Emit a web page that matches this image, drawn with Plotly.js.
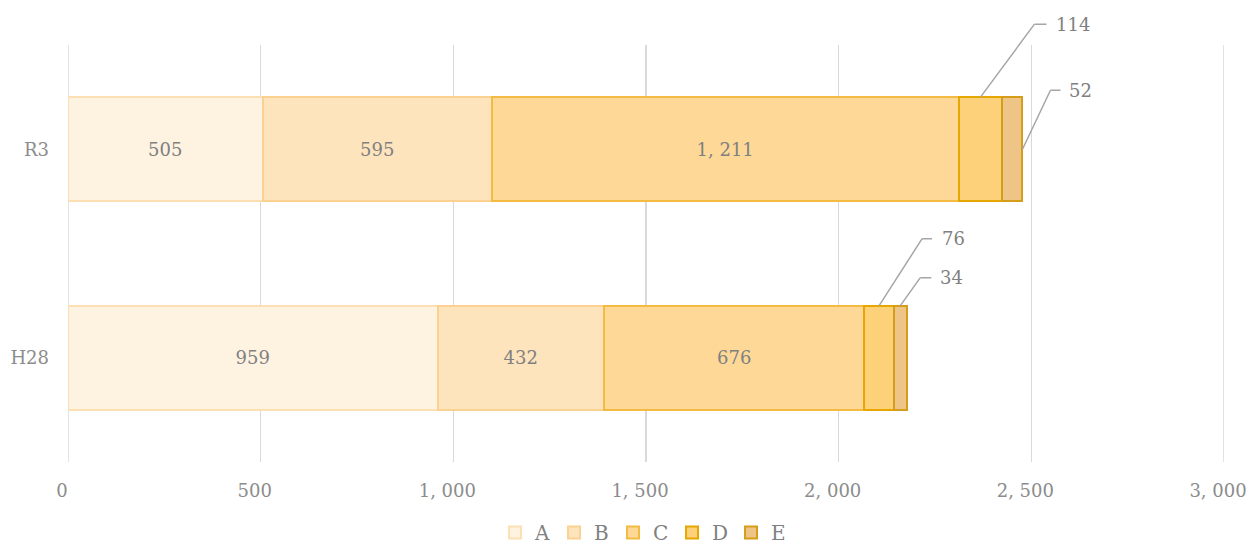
<!DOCTYPE html>
<html>
<head>
<meta charset="utf-8">
<script src="https://cdn.plot.ly/plotly-3.0.1.min.js"></script>
<style>html,body{margin:0;padding:0;background:#fff;}#chart{width:1252px;height:552px;}</style>
</head>
<body>
<div id="chart"></div>
<script>
// ---- data ----
const categories = ['R3', 'H28'];
const seriesNames = ['A', 'B', 'C', 'D', 'E'];
const valuesA = [505, 959];
const valuesB = [595, 432];
const valuesC = [1211, 676];
const valuesD = [114, 76];
const valuesE = [52, 34];
const xTickValues = [0, 500, 1000, 1500, 2000, 2500, 3000];

// ---- styles ----
const fillColors = ['#FEF2E1', '#FEE4BD', '#FDD897', '#FDD07A', '#EFC587'];
const lineColors = ['#FCE0B4', '#FAD190', '#F4BB42', '#E6A800', '#D49D1A'];
const FONT = 'DejaVu Serif, Liberation Serif, serif';
const textColor = '#808080';
const gridColor = '#D9D9D9';
const series = [valuesA, valuesB, valuesC, valuesD, valuesE];
const insideLabel = [true, true, true, false, false];

// number format with "comma + space" thousands separator
function fmt(v) {
  return String(v).replace(/\B(?=(\d{3})+(?!\d))/g, ', ');
}

const traces = series.map((vals, i) => ({
  type: 'bar',
  orientation: 'h',
  name: seriesNames[i],
  y: categories,
  x: vals,
  marker: { color: fillColors[i], line: { color: lineColors[i], width: 2 } },
  text: insideLabel[i] ? vals.map(fmt) : vals.map(() => ''),
  textposition: insideLabel[i] ? 'inside' : 'none',
  insidetextanchor: 'middle',
  insidetextfont: { family: FONT, size: 18, color: textColor },
  hoverinfo: 'x+name'
}));

// leader-line callouts for small segments (series index 3 and 4)
const calloutStyle = {
  'R3': [
    { s: 3, anchor: 'top', dx: 54, dy: 73, tail: 12, gap: 22 },
    { s: 4, anchor: 'right', dx: 28, dy: 59, tail: 10, gap: 19 }
  ],
  'H28': [
    { s: 3, anchor: 'top', dx: 43, dy: 67, tail: 10, gap: 20 },
    { s: 4, anchor: 'top', dx: 20, dy: 28, tail: 11, gap: 20 }
  ]
};
const barHalf = 0.25;
const lineStyle = { arrowcolor: '#A6A6A6', arrowwidth: 1.5, arrowhead: 0, standoff: 0, startstandoff: 0 };
const annotations = [];
categories.forEach((cat, ci) => {
  calloutStyle[cat].forEach(st => {
    let start = 0;
    for (let k = 0; k < st.s; k++) start += series[k][ci];
    const v = series[st.s][ci];
    let ax, ay;
    if (st.anchor === 'top') { ax = start + v / 2; ay = ci - barHalf; }
    else { ax = start + v; ay = ci; }
    // diagonal: head at the bar, tail at the elbow (empty, tiny box)
    annotations.push(Object.assign({
      xref: 'x', yref: 'y', x: ax, y: ay, text: ' ', showarrow: true,
      ax: st.dx, ay: -st.dy, borderpad: 0, borderwidth: 0,
      font: { size: 1, color: 'rgba(0,0,0,0)' }
    }, lineStyle));
    // label with horizontal tail: head at the elbow, text box to the right
    annotations.push(Object.assign({
      xref: 'x', yref: 'y', x: ax, y: ay,
      xshift: st.dx, yshift: st.dy,
      showarrow: true, ax: st.tail, ay: 0,
      xanchor: 'left', yanchor: 'middle',
      borderpad: st.gap - st.tail, borderwidth: 0,
      text: fmt(v),
      font: { family: FONT, size: 18, color: textColor }
    }, lineStyle));
  });
});

// gridlines at the axis ends (Plotly hides those at the plot edges)
const edgeGrid = [xTickValues[0], xTickValues[xTickValues.length - 1]].map(v => ({
  type: 'line', layer: 'below', xref: 'x', yref: 'paper',
  x0: v, x1: v, y0: 0, y1: 1,
  line: { color: gridColor, width: 1.5 }
}));

const layout = {
  width: 1252, height: 552,
  margin: { l: 68, r: 28, t: 45, b: 90, autoexpand: false },
  paper_bgcolor: '#ffffff', plot_bgcolor: '#ffffff',
  barmode: 'stack', bargap: 0.5,
  font: { family: FONT, size: 18, color: textColor },
  xaxis: {
    range: [0, 3000], tickvals: xTickValues, ticktext: xTickValues.map(fmt),
    showgrid: true, gridcolor: gridColor, gridwidth: 1.5,
    zeroline: false, showline: false, ticks: '',
    tickfont: { family: FONT, size: 18, color: '#8C8C8C' },
    ticklabelstandoff: 16, ticklabelshift: -6, fixedrange: true
  },
  yaxis: {
    autorange: 'reversed', type: 'category',
    showgrid: false, zeroline: false, showline: false, ticks: '',
    tickfont: { family: FONT, size: 18, color: '#8C8C8C' },
    ticklabelstandoff: 18, fixedrange: true
  },
  showlegend: true,
  legend: {
    orientation: 'h', x: 0.497, xanchor: 'center',
    yref: 'container', y: -0.01, yanchor: 'bottom',
    font: { family: FONT, size: 20, color: '#808080' },
    traceorder: 'normal', itemclick: false, itemdoubleclick: false,
    entrywidth: 14
  },
  shapes: edgeGrid,
  annotations: annotations
};

Plotly.newPlot('chart', traces, layout, { displayModeBar: false, staticPlot: true });
</script>
</body>
</html>
